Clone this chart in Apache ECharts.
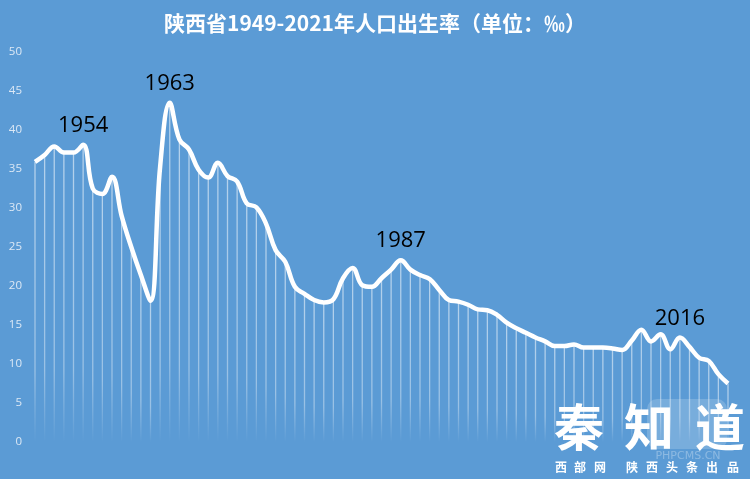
<!DOCTYPE html>
<html>
<head>
<meta charset="utf-8">
<script src="https://cdn.jsdelivr.net/npm/echarts@6/dist/echarts.min.js"></script>
<style>
html,body{margin:0;padding:0;background:#5b9bd5;}
#chart{width:750px;height:479px;}
</style>
</head>
<body>
<div id="chart"></div>
<script>
const years = [];
for (let y = 1949; y <= 2021; y++) years.push(String(y));
const birthRate = [
  35.9, 36.8, 37.9, 37.1, 37.1, 38.1, 32.5, 31.8, 34.0, 29.0,
  25.0, 21.4, 18.1, 35.3, 43.5, 38.8, 37.5, 34.9, 33.9, 35.8,
  34.1, 33.4, 30.6, 30.1, 28.0, 24.6, 23.1, 19.9, 19.0, 18.2,
  17.9, 18.3, 21.0, 22.3, 20.1, 19.9, 21.0, 22.1, 23.3, 22.1,
  21.4, 20.9, 19.5, 18.2, 18.0, 17.6, 17.0, 16.9, 16.3, 15.3,
  14.6, 14.0, 13.4, 12.9, 12.3, 12.3, 12.5, 12.1, 12.1, 12.1,
  12.0, 11.8, 13.0, 14.4, 12.9, 13.8, 11.9, 13.4, 12.2, 10.8,
  10.4, 8.7, 7.5
];
const annotatedYears = ['1954', '1963', '1987', '2016'];
const yTicks = [0, 5, 10, 15, 20, 25, 30, 35, 40, 45, 50];
const titleText = '陕西省1949-2021年人口出生率（单位：‰）';

const lineData = birthRate.map((v, i) => {
  if (annotatedYears.indexOf(years[i]) >= 0) {
    return {
      value: v,
      label: {
        show: true, position: 'top', distance: 8,
        formatter: years[i],
        color: '#000', fontSize: 22,
        fontFamily: '"Open Sans", "Noto Sans", sans-serif'
      }
    };
  }
  return v;
});

const chart = echarts.init(document.getElementById('chart'), null, {renderer: 'canvas'});
const wm = [];
const bigChars = [['秦', 579], ['知', 649], ['道', 720]];
const smallChars = [['西', 561], ['部', 580], ['网', 600], ['陕', 632], ['西', 652], ['头', 672], ['条', 692], ['出', 712], ['品', 733]];
wm.push({
  type: 'rect', shape: {x: 647, y: 399, width: 80, height: 50, r: 10},
  style: {fill: 'rgba(255,255,255,0.18)'}, z: 10
});
bigChars.forEach(c => wm.push({
  type: 'text', x: c[1], y: 427,
  style: {text: c[0], fill: '#fff', font: 'bold 50px "Noto Sans CJK SC"', textAlign: 'center', textVerticalAlign: 'middle'},
  z: 11
}));
smallChars.forEach(c => wm.push({
  type: 'text', x: c[1], y: 467,
  style: {text: c[0], fill: '#fff', font: 'bold 12px "Noto Sans CJK SC"', textAlign: 'center', textVerticalAlign: 'middle'},
  z: 11
}));
wm.push({
  type: 'text', x: 688, y: 456,
  style: {text: 'PHPCMS.CN', fill: 'rgba(255,255,255,0.3)', font: '11px "DejaVu Sans"', textAlign: 'center', textVerticalAlign: 'middle'},
  z: 11
});

chart.setOption({
  backgroundColor: '#5b9bd5',
  animation: false,
  title: {
    text: titleText,
    left: 'center', top: 8,
    textStyle: {color: '#fff', fontSize: 21, fontWeight: 'bold', fontFamily: '"Noto Sans CJK SC", sans-serif'}
  },
  grid: {left: 35, right: 22, top: 52, bottom: 37},
  xAxis: {
    type: 'category', data: years, boundaryGap: false,
    axisLine: {show: false}, axisTick: {show: false}, axisLabel: {show: false}, splitLine: {show: false}
  },
  yAxis: {
    type: 'value', min: yTicks[0], max: yTicks[yTicks.length - 1], interval: 5,
    axisLine: {show: false}, axisTick: {show: false}, splitLine: {show: false},
    axisLabel: {color: '#dce8f5', fontSize: 11.5, margin: 13, fontFamily: '"Open Sans", sans-serif'}
  },
  series: [
    {
      type: 'bar', data: birthRate, barWidth: 1.3, z: 1, silent: true,
      itemStyle: {
        color: new echarts.graphic.LinearGradient(0, 0, 0, 1, [
          {offset: 0, color: 'rgba(255,255,255,0.55)'},
          {offset: 0.75, color: 'rgba(255,255,255,0.38)'},
          {offset: 1, color: 'rgba(255,255,255,0.0)'}
        ])
      }
    },
    {
      type: 'line', data: lineData, smooth: 0.4, z: 3,
      symbol: 'circle', symbolSize: 0.1, showSymbol: true,
      itemStyle: {color: '#fff'},
      lineStyle: {color: '#fff', width: 4.5}
    }
  ],
  graphic: wm
});
</script>
</body>
</html>
